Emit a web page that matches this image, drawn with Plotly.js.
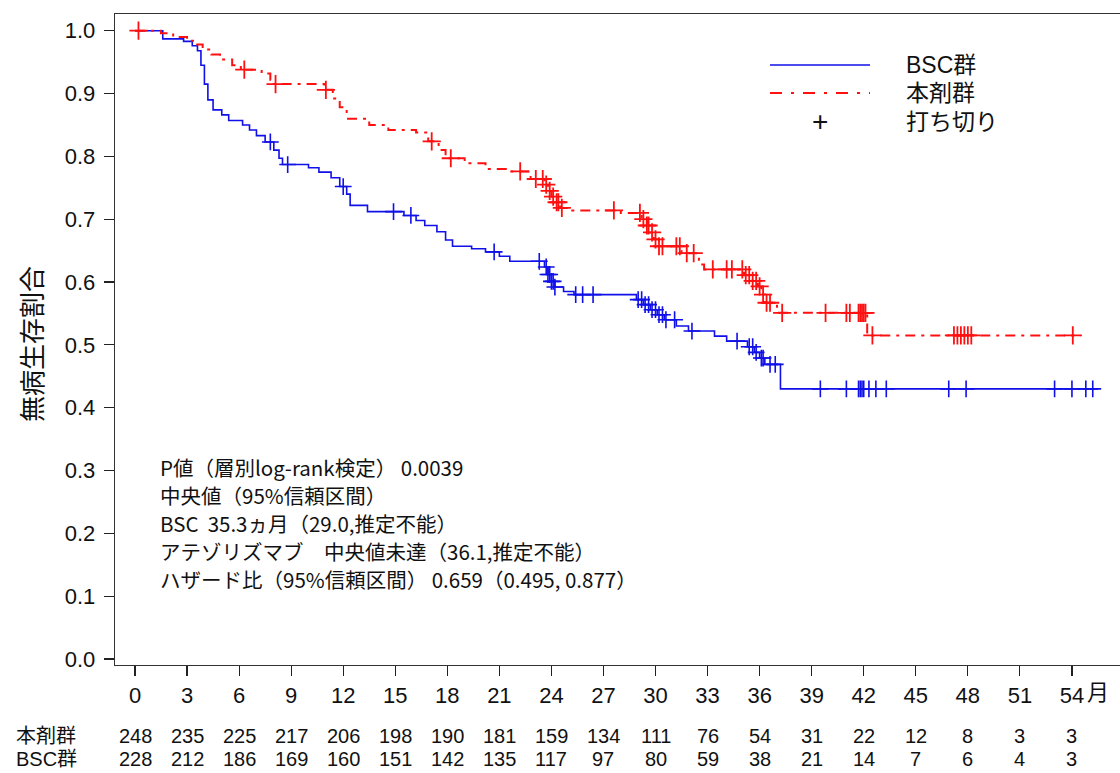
<!DOCTYPE html>
<html><head><meta charset="utf-8">
<script src="https://cdn.plot.ly/plotly-3.0.1.min.js"></script>
<style>body{margin:0;background:#fff}#chart{width:1120px;height:773px}</style>
</head><body><div id="chart"></div>
<script>
// ---- data (months, survival proportion) ----
const bscTimes = [0,1.6,2.8,3.3,3.6,3.8,4.0,4.2,4.5,5.0,5.4,6.2,6.6,7.0,7.5,8.0,8.3,8.5,10.0,10.6,11.3,11.8,12.2,12.4,13.4,15.5,16.2,16.7,17.4,17.9,18.3,19.4,20.2,21.0,21.6,23.6,23.8,24.0,24.2,24.7,25.3,28.9,29.3,29.7,30.1,30.5,31.2,31.9,33.4,34.1,35.3,35.7,36.0,36.3,37.2,55.5];
const bscSurv  = [1.000,0.987,0.983,0.976,0.968,0.945,0.915,0.890,0.874,0.866,0.857,0.850,0.842,0.833,0.823,0.810,0.797,0.787,0.782,0.775,0.766,0.752,0.740,0.722,0.712,0.706,0.698,0.690,0.680,0.667,0.657,0.653,0.648,0.641,0.633,0.624,0.612,0.601,0.592,0.585,0.580,0.572,0.564,0.556,0.548,0.540,0.530,0.522,0.514,0.506,0.497,0.488,0.479,0.469,0.430,0.430];
const bscCensorTimes = [7.8,8.8,12.0,14.9,15.9,20.7,23.3,23.7,23.8,23.9,24.0,24.1,24.2,25.4,25.8,26.4,29.0,29.2,29.4,29.6,29.8,30.0,30.2,30.4,30.6,31.1,32.1,34.7,35.4,35.6,35.8,36.1,36.2,36.6,36.9,39.5,41.0,41.7,41.8,41.9,42.0,42.3,42.7,43.3,46.9,47.9,53.0,54.0,54.8,55.2];

const drugTimes = [0,1.5,2.2,3.0,3.5,3.9,4.4,4.9,5.6,6.1,7.3,7.8,8.0,10.9,11.4,11.8,12.2,13.5,14.6,16.2,16.9,17.5,17.9,19.0,20.2,21.5,22.8,23.6,23.8,24.0,24.2,24.5,25.2,28.0,29.2,29.5,29.7,29.9,30.2,31.5,32.5,32.8,35.1,35.5,35.9,36.1,36.3,37.0,42.2,54.5];
const drugSurv  = [1.000,0.996,0.990,0.984,0.978,0.970,0.962,0.954,0.945,0.938,0.932,0.922,0.915,0.906,0.892,0.878,0.860,0.850,0.842,0.838,0.824,0.810,0.797,0.789,0.780,0.776,0.764,0.755,0.745,0.736,0.727,0.718,0.714,0.710,0.700,0.690,0.679,0.668,0.657,0.646,0.628,0.620,0.611,0.602,0.593,0.580,0.567,0.551,0.515,0.515];
const drugCensorTimes = [0.2,6.3,8.1,11.0,17.1,18.2,22.2,23.1,23.5,23.7,23.9,24.1,24.3,24.4,24.6,27.6,29.1,29.3,29.5,29.6,29.8,30.0,30.2,30.4,31.2,31.4,31.8,32.2,33.3,34.1,34.4,35.0,35.2,35.4,35.6,35.8,36.0,36.2,36.4,36.6,37.3,39.8,41.0,41.2,41.7,41.8,41.9,42.0,42.1,42.5,47.2,47.4,47.6,47.8,48.0,48.2,54.05];

const tickMonths = [0,3,6,9,12,15,18,21,24,27,30,33,36,39,42,45,48,51,54];
const tickLabels = ['0','3','6','9','12','15','18','21','24','27','30','33','36','39','42','45','48','51','54'];
const yTicks = [0,0.1,0.2,0.3,0.4,0.5,0.6,0.7,0.8,0.9,1.0];
const atRiskDrug = [248,235,225,217,206,198,190,181,159,134,111,76,54,31,22,12,8,3,3];
const atRiskBSC  = [228,212,186,169,160,151,142,135,117,97,80,59,38,21,14,7,6,4,3];
const groupNames = ['BSC群','本剤群','打ち切り'];
const riskLabels = ['本剤群','BSC群'];
const statLines = [
  'P値（層別log-rank検定） 0.0039',
  '中央値（95%信頼区間）',
  'BSC  35.3ヵ月（29.0,推定不能）',
  'アテゾリズマブ　中央値未達（36.1,推定不能）',
  'ハザード比（95%信頼区間） 0.659（0.495, 0.877）'
];

// ---- helpers ----
function survAt(times, surv, t){
  let s = surv[0];
  for (let i = 0; i < times.length; i++){ if (times[i] <= t) s = surv[i]; else break; }
  return s;
}
const BLUE = '#1010e8', RED = '#ff1010';
const W = 1120, H = 773, ML = 115, MR = 0, MT = 14, MB = 108;
const PW = W - ML - MR, PH = H - MT - MB;
const px = x => (x - ML) / PW;
const py = y => (H - MB - y) / PH;

const traces = [
  {x: bscTimes, y: bscSurv, mode: 'lines', line: {shape: 'hv', color: BLUE, width: 1.6}, hoverinfo: 'skip', showlegend: false},
  {x: drugTimes, y: drugSurv, mode: 'lines', line: {shape: 'hv', color: RED, width: 2, dash: '10px,6px,3px,6px'}, hoverinfo: 'skip', showlegend: false},
  {x: bscCensorTimes, y: bscCensorTimes.map(t => survAt(bscTimes, bscSurv, t)), mode: 'markers',
   marker: {symbol: 'cross-thin-open', size: 12, color: BLUE, line: {color: BLUE, width: 1.6}}, hoverinfo: 'skip', showlegend: false},
  {x: drugCensorTimes, y: drugCensorTimes.map(t => survAt(drugTimes, drugSurv, t)), mode: 'markers',
   marker: {symbol: 'cross-thin-open', size: 13, color: RED, line: {color: RED, width: 1.8}}, hoverinfo: 'skip', showlegend: false}
];

const FONT = 'Liberation Sans, Arial, Noto Sans CJK JP, sans-serif';
const JFONT = 'Noto Sans CJK JP, sans-serif';
const annotations = [];

// risk table
const r1 = 736, r2 = 759;
tickMonths.forEach((m, i) => {
  annotations.push({x: m, xref: 'x', y: py(r1), yref: 'paper', text: String(atRiskDrug[i]), showarrow: false,
    xanchor: 'center', yanchor: 'middle', font: {family: FONT, size: 20, color: '#111'}});
  annotations.push({x: m, xref: 'x', y: py(r2), yref: 'paper', text: String(atRiskBSC[i]), showarrow: false,
    xanchor: 'center', yanchor: 'middle', font: {family: FONT, size: 20, color: '#111'}});
});
riskLabels.forEach((lab, i) => {
  annotations.push({x: px(14), xref: 'paper', y: py(i === 0 ? r1 : r2), yref: 'paper', text: lab, showarrow: false,
    xanchor: 'left', yanchor: 'middle', font: {family: FONT, size: 20, color: '#111'}});
});
// month unit
annotations.push({x: 54, xref: 'x', xshift: 13, y: py(690), yref: 'paper', text: '月', showarrow: false,
  xanchor: 'left', yanchor: 'middle', font: {family: JFONT, size: 22, color: '#111'}});
// y title
annotations.push({x: px(30), xref: 'paper', y: py(344), yref: 'paper', text: '無病生存割合', textangle: -90, showarrow: false,
  xanchor: 'center', yanchor: 'middle', font: {family: JFONT, size: 26, color: '#111'}});
// stats text
const statY = [467, 495, 523, 551, 579];
statLines.forEach((s, i) => {
  annotations.push({x: px(158), xref: 'paper', y: py(statY[i]), yref: 'paper', text: s, showarrow: false,
    xanchor: 'left', yanchor: 'middle', font: {family: JFONT, size: 20.5, color: '#111'}});
});
// legend
const legY = [65, 93, 122];
groupNames.forEach((g, i) => {
  annotations.push({x: px(904), xref: 'paper', y: py(legY[i]), yref: 'paper', text: g, showarrow: false,
    xanchor: 'left', yanchor: 'middle', font: {family: FONT, size: 23, color: '#111'}});
});
annotations.push({x: px(820), xref: 'paper', y: py(122), yref: 'paper', text: '+', showarrow: false,
  xanchor: 'center', yanchor: 'middle', font: {family: FONT, size: 28, color: '#111'}});

const shapes = [
  {type: 'line', xref: 'paper', yref: 'paper', x0: px(770), x1: px(870), y0: py(65), y1: py(65), line: {color: BLUE, width: 1.6}},
  {type: 'line', xref: 'paper', yref: 'paper', x0: px(770), x1: px(870), y0: py(93), y1: py(93), line: {color: RED, width: 2, dash: '12px,9px,3px,9px'}}
];

const layout = {
  width: W, height: H,
  margin: {l: ML, r: MR, t: MT, b: MB},
  paper_bgcolor: '#fff', plot_bgcolor: '#fff',
  showlegend: false,
  xaxis: {range: [-1.153, 56.77], tickvals: tickMonths, ticktext: tickLabels, ticks: 'outside', ticklen: 10, tickwidth: 1.2,
    tickcolor: '#222', showline: true, linecolor: '#333', linewidth: 1.3, mirror: true, showgrid: false, zeroline: false,
    tickfont: {family: FONT, size: 22, color: '#111'}, ticklabelstandoff: 0},
  yaxis: {range: [-0.0095, 1.0266], tickvals: yTicks, tickformat: '.1f', ticks: 'outside', ticklen: 10, tickwidth: 1.2,
    tickcolor: '#222', showline: true, linecolor: '#333', linewidth: 1.3, mirror: false, showgrid: false, zeroline: false,
    tickfont: {family: FONT, size: 22, color: '#111'}, ticklabelstandoff: 4},
  annotations: annotations,
  shapes: shapes
};
Plotly.newPlot('chart', traces, layout, {staticPlot: true, displayModeBar: false});
</script></body></html>
